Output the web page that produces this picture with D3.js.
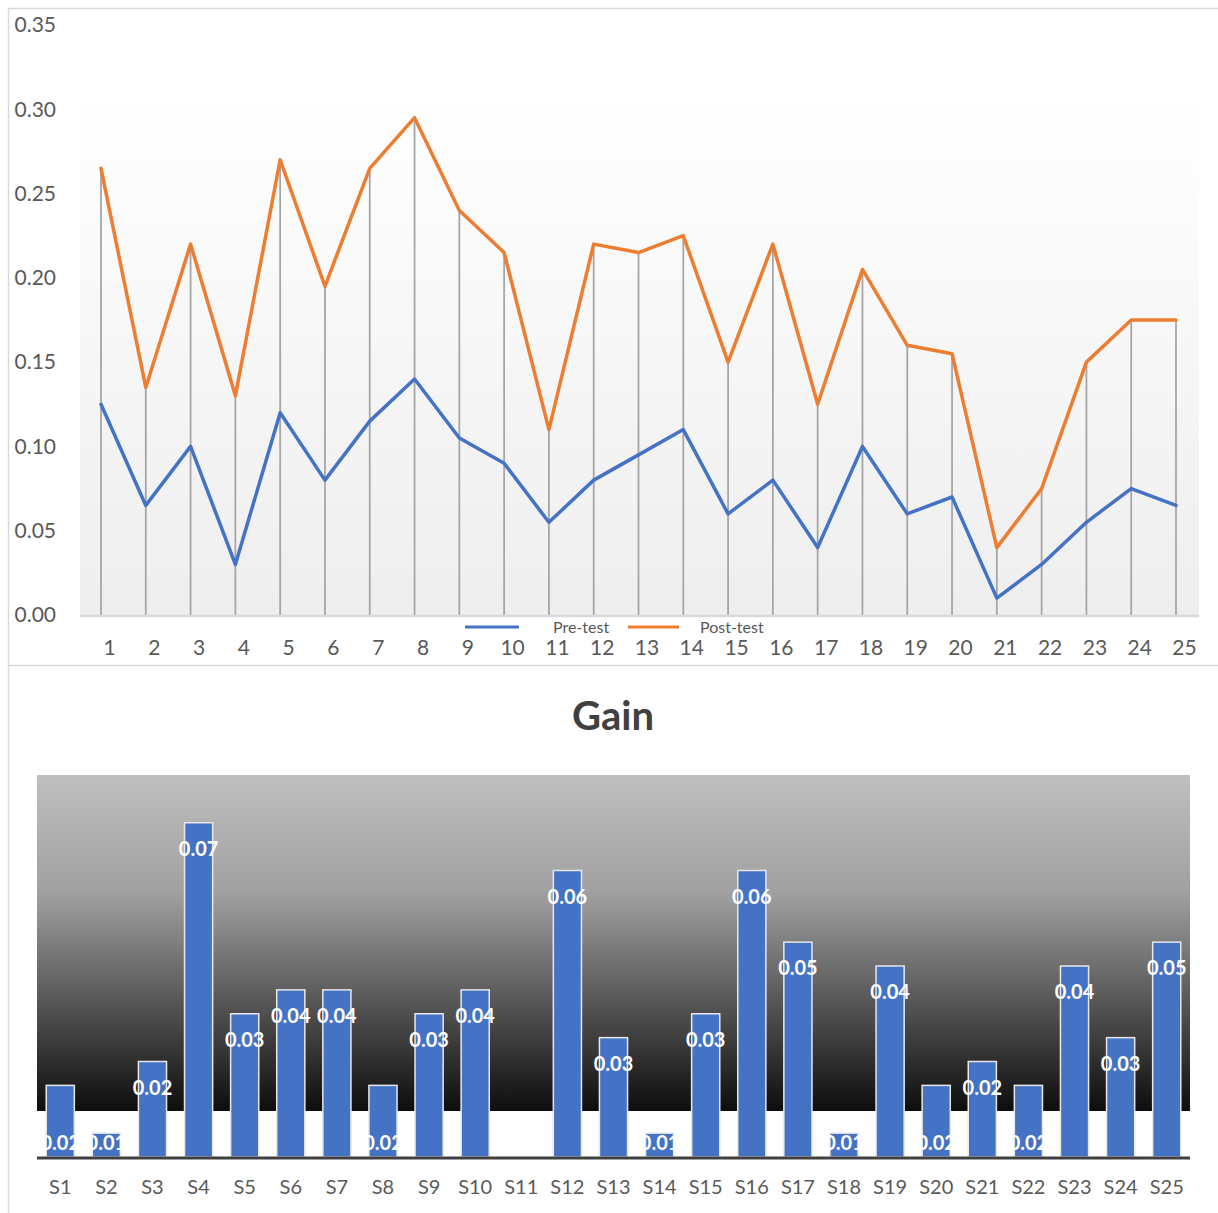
<!DOCTYPE html>
<html>
<head>
<meta charset="utf-8">
<script src="https://cdn.jsdelivr.net/npm/d3@7"></script>
<style>
  html, body { margin: 0; padding: 0; background: #fff; }
  svg { display: block; font-family: Lato, "Open Sans", sans-serif; }
</style>
</head>
<body>
<svg id="chart" width="1218" height="1213"></svg>
<script>
// ---- data ----------------------------------------------------------
const students = d3.range(1, 26);
const preTest  = [0.125, 0.065, 0.10, 0.03, 0.12, 0.08, 0.115, 0.14, 0.105, 0.09,
                  0.055, 0.08, 0.095, 0.11, 0.06, 0.08, 0.04, 0.10, 0.06, 0.07,
                  0.01, 0.03, 0.055, 0.075, 0.065];
const postTest = [0.265, 0.135, 0.22, 0.13, 0.27, 0.195, 0.265, 0.295, 0.24, 0.215,
                  0.11, 0.22, 0.215, 0.225, 0.15, 0.22, 0.125, 0.205, 0.16, 0.155,
                  0.04, 0.075, 0.15, 0.175, 0.175];
const yTicks = [0, 0.05, 0.10, 0.15, 0.20, 0.25, 0.30, 0.35];
const seriesNames = ["Pre-test", "Post-test"];

const gainCategories = students.map(d => "S" + d);
const gainValues = [0.015, 0.005, 0.02, 0.07, 0.03, 0.035, 0.035, 0.015, 0.03, 0.035,
                    0, 0.06, 0.025, 0.005, 0.03, 0.06, 0.045, 0.005, 0.04, 0.015,
                    0.02, 0.015, 0.04, 0.025, 0.045];

// ---- styles --------------------------------------------------------
const BLUE = "#4472C4", ORANGE = "#ED7D31", TEXT = "#595959";
const svg = d3.select("#chart");
const defs = svg.append("defs");

// chart frames
svg.append("path")
  .attr("d", "M1218,8.5 H8.5 V665.5 H1218")
  .attr("fill", "none").attr("stroke", "#d9d9d9").attr("stroke-width", 1.5);
svg.append("path")
  .attr("d", "M8.5,665.5 V1213")
  .attr("fill", "none").attr("stroke", "#d9d9d9").attr("stroke-width", 1.5);

// ================= Pre/Post line chart ==============================
const lp = { left: 80, right: 1199, plotTop: 93, base: 615 };
const x = d3.scalePoint().domain(students).range([101, 1176]);
const y = d3.scaleLinear().domain([0, 0.35]).range([lp.base, 25]);

const lg = defs.append("linearGradient").attr("id", "plotBg")
  .attr("x1", 0).attr("y1", 0).attr("x2", 0).attr("y2", 1);
lg.append("stop").attr("offset", "0%").attr("stop-color", "#ffffff");
lg.append("stop").attr("offset", "100%").attr("stop-color", "#eeeeee");

const g1 = svg.append("g");
g1.append("rect")
  .attr("x", lp.left).attr("y", lp.plotTop)
  .attr("width", lp.right - lp.left).attr("height", lp.base - lp.plotTop)
  .attr("fill", "url(#plotBg)");

// drop lines from the higher series down to the axis
g1.append("g").selectAll("line").data(students).join("line")
  .attr("x1", d => x(d)).attr("x2", d => x(d))
  .attr("y1", (d, i) => y(Math.max(preTest[i], postTest[i])))
  .attr("y2", lp.base)
  .attr("stroke", "#a6a6a6").attr("stroke-width", 1.8);

// category axis
g1.append("line")
  .attr("x1", lp.left).attr("x2", lp.right)
  .attr("y1", lp.base + 1).attr("y2", lp.base + 1)
  .attr("stroke", "#d9d9d9").attr("stroke-width", 2.5);

const xAxis = g1.append("g")
  .attr("transform", `translate(8,${lp.base + 24})`)
  .call(d3.axisBottom(x).tickSize(0).tickPadding(0));
xAxis.select(".domain").remove();
xAxis.selectAll("text")
  .attr("dy", "0.75em")
  .attr("font-family", "Lato, sans-serif")
  .attr("font-size", 21).attr("fill", TEXT);

// value axis labels
const yAxis = g1.append("g")
  .attr("transform", "translate(56,0)")
  .call(d3.axisLeft(y).tickValues(yTicks).tickSize(0).tickPadding(0)
    .tickFormat(d3.format(".2f")));
yAxis.select(".domain").remove();
yAxis.selectAll("text")
  .attr("font-family", "Lato, sans-serif")
  .attr("font-size", 21).attr("fill", TEXT);

// series lines
const line = d3.line().x((d, i) => x(students[i])).y(d => y(d));
[[preTest, BLUE], [postTest, ORANGE]].forEach(([vals, col]) => {
  g1.append("path").datum(vals)
    .attr("d", line)
    .attr("fill", "none").attr("stroke", col)
    .attr("stroke-width", 3.5)
    .attr("stroke-linejoin", "round").attr("stroke-linecap", "round");
});

// legend
const legend = g1.append("g").attr("transform", "translate(465,627)");
const legendItems = [
  { name: seriesNames[0], color: BLUE,   x0: 0,   len: 54, tx: 88 },
  { name: seriesNames[1], color: ORANGE, x0: 163, len: 51, tx: 235 }
];
legendItems.forEach(it => {
  legend.append("line")
    .attr("x1", it.x0).attr("x2", it.x0 + it.len)
    .attr("y1", 0).attr("y2", 0)
    .attr("stroke", it.color).attr("stroke-width", 3);
  legend.append("text")
    .attr("x", it.tx).attr("y", 0).attr("dy", "0.35em")
    .attr("font-size", 16).attr("fill", TEXT)
    .text(it.name);
});

// ================= Gain bar chart ===================================
const bp = { left: 37, right: 1190, top: 775, fadeEnd: 1111, base: 1157 };
const xb = d3.scaleBand().domain(gainCategories)
  .range([bp.left, bp.right]).paddingInner(0.39).paddingOuter(0.2);
const yb = d3.scaleLinear().domain([0, 0.08]).range([bp.base, bp.top]);

svg.append("text")
  .attr("x", 613).attr("y", 730)
  .attr("text-anchor", "middle")
  .attr("font-size", 40).attr("font-weight", 700).attr("fill", "#404040")
  .text("Gain");

const bg = defs.append("linearGradient").attr("id", "barBg")
  .attr("x1", 0).attr("y1", 0).attr("x2", 0).attr("y2", 1);
bg.append("stop").attr("offset", "0%").attr("stop-color", "#bfbfbf");
bg.append("stop").attr("offset", "35%").attr("stop-color", "#a0a0a0");
bg.append("stop").attr("offset", "100%").attr("stop-color", "#0d0d0d");

const g2 = svg.append("g");
g2.append("rect")
  .attr("x", bp.left).attr("y", bp.top)
  .attr("width", bp.right - bp.left).attr("height", bp.fadeEnd - bp.top)
  .attr("fill", "url(#barBg)");

const bars = g2.append("g").selectAll("g").data(gainCategories).join("g");
bars.append("rect")
  .attr("x", d => xb(d))
  .attr("y", (d, i) => yb(gainValues[i]))
  .attr("width", xb.bandwidth())
  .attr("height", (d, i) => bp.base - yb(gainValues[i]))
  .attr("fill", BLUE)
  .attr("stroke", (d, i) => gainValues[i] > 0 ? "#e8e8e8" : "none")
  .attr("stroke-width", 1.5);

// value labels: inside end for taller bars, inside base for short ones
const fmt = v => (Math.round(v * 100 + 1e-9) / 100).toFixed(2);
bars.filter((d, i) => gainValues[i] > 0).append("text")
  .attr("x", d => xb(d) + xb.bandwidth() / 2)
  .attr("y", d => {
    const v = gainValues[gainCategories.indexOf(d)];
    return v < 0.02 ? bp.base - 14 : yb(v) + 26;
  })
  .attr("dy", "0.35em")
  .attr("text-anchor", "middle")
  .attr("font-size", 20).attr("font-weight", 700).attr("fill", "#ffffff")
  .text(d => fmt(gainValues[gainCategories.indexOf(d)]));

g2.append("line")
  .attr("x1", bp.left).attr("x2", bp.right)
  .attr("y1", bp.base + 1).attr("y2", bp.base + 1)
  .attr("stroke", "#404040").attr("stroke-width", 3);

const xbAxis = g2.append("g")
  .attr("transform", `translate(0,${bp.base + 22})`)
  .call(d3.axisBottom(xb).tickSize(0).tickPadding(0));
xbAxis.select(".domain").remove();
xbAxis.selectAll("text")
  .attr("dy", "0.75em")
  .attr("font-family", "Lato, sans-serif")
  .attr("font-size", 20).attr("fill", TEXT);
</script>
</body>
</html>
